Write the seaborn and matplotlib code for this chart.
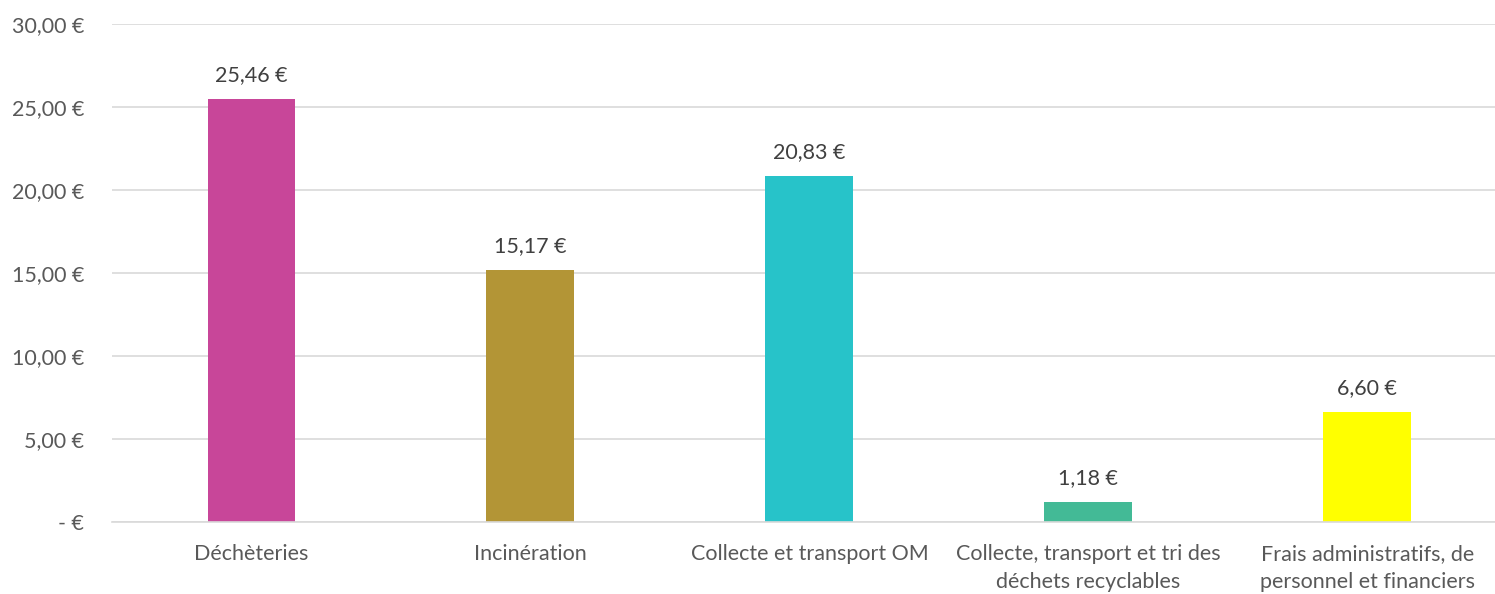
import matplotlib
matplotlib.use("Agg")
import matplotlib.pyplot as plt
import seaborn as sns
import pandas as pd

categories = ["Déchèteries", "Incinération", "Collecte et transport OM",
              "Collecte, transport et tri des\ndéchets recyclables",
              "Frais administratifs, de\npersonnel et financiers"]
values = [25.46, 15.17, 20.83, 1.18, 6.60]
colors = ["#C84699", "#B39536", "#27C3C9", "#43BA96", "#FFFF00"]
yticks = [0, 5, 10, 15, 20, 25, 30]
ytick_labels = ["- €", "5,00 €", "10,00 €", "15,00 €", "20,00 €", "25,00 €", "30,00 €"]

sns.set_theme(style="white")
plt.rcParams['font.family'] = ['Lato', 'DejaVu Sans']

FS = 15.5
df = pd.DataFrame({"cat": categories, "val": values})
fig = plt.figure(figsize=(14.95, 5.94), dpi=100)
ax = fig.add_axes([0.0749, 0.1212, 0.933, 0.8384])
sns.barplot(data=df, x="cat", y="val", hue="cat", palette=colors, width=0.315,
            legend=False, ax=ax, saturation=1, linewidth=0)
ax.set_ylim(0, 30)
ax.set_xlim(-0.5, 4.5)
ax.set_yticks(yticks)
ax.set_yticklabels(ytick_labels, fontsize=FS, color="#595959")
ax.tick_params(axis='x', labelsize=FS, labelcolor="#595959", length=0, pad=16)
ax.tick_params(axis='y', length=0, pad=20)
for lbl in ax.get_xticklabels():
    lbl.set_linespacing(1.5)
ax.set_xlabel("")
ax.set_ylabel("")
ax.yaxis.grid(True, color="#D9D9D9", linewidth=1.2)
ax.set_axisbelow(True)
for s in ["top", "right", "left"]:
    ax.spines[s].set_visible(False)
ax.spines["bottom"].set_color("#D9D9D9")
ax.spines["bottom"].set_linewidth(1.2)
for i, v in enumerate(values):
    ax.annotate(f"{v:.2f} €".replace(".", ","), (i, v), xytext=(0, 10),
                textcoords="offset points", ha="center", va="bottom",
                fontsize=FS, color="#404040")
fig.savefig("out.png", dpi=100)
